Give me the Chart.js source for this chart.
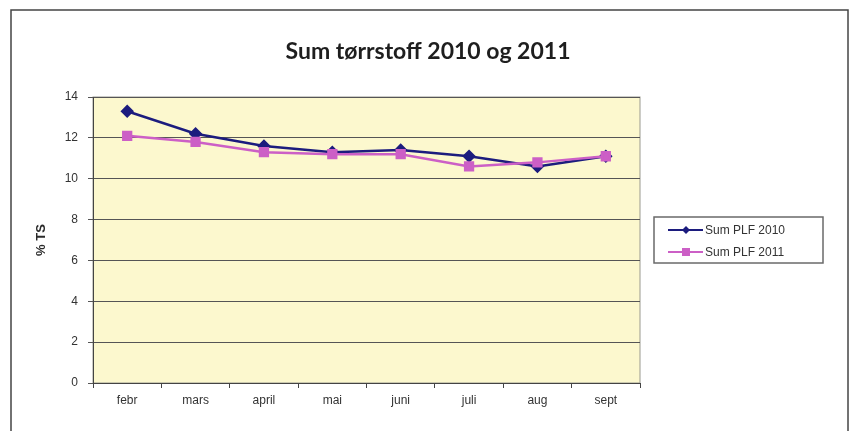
<!DOCTYPE html>
<html>
<head>
<meta charset="utf-8">
<script src="https://cdn.jsdelivr.net/npm/chart.js@4"></script>
<style>
  html, body { margin: 0; padding: 0; background: #fff; }
  #wrap { width: 853px; height: 431px; }
</style>
</head>
<body>
<div id="wrap"><canvas id="myChart" width="853" height="431"></canvas></div>
<script>
const months = ['febr', 'mars', 'april', 'mai', 'juni', 'juli', 'aug', 'sept'];
const plf2010 = [13.3, 12.2, 11.6, 11.3, 11.4, 11.1, 10.6, 11.1];
const plf2011 = [12.1, 11.8, 11.3, 11.2, 11.2, 10.6, 10.8, 11.1];
const yTicks = [0, 2, 4, 6, 8, 10, 12, 14];

const titleText = 'Sum tørrstoff 2010 og 2011';
const yTitle = '% TS';

// background, frame, title, y title and the boxed legend
const decorPlugin = {
  id: 'decor',
  beforeDraw(chart) {
    const { ctx, chartArea: a } = chart;
    ctx.save();
    ctx.fillStyle = '#fff';
    ctx.fillRect(0, 0, chart.width, chart.height);
    // outer frame
    ctx.strokeStyle = '#444';
    ctx.lineWidth = 1.5;
    ctx.strokeRect(11, 10, 837, 440);
    // plot background
    ctx.fillStyle = '#FCF8CE';
    ctx.fillRect(a.left, a.top, a.right - a.left, a.bottom - a.top);
    ctx.strokeStyle = '#9a9a90';
    ctx.lineWidth = 1;
    ctx.strokeRect(a.left, a.top, a.right - a.left, a.bottom - a.top);
    ctx.restore();
  },
  afterDraw(chart) {
    const { ctx } = chart;
    ctx.save();
    ctx.fillStyle = '#1e1e1e';
    ctx.font = 'bold 23px Lato';
    ctx.textAlign = 'center';
    ctx.textBaseline = 'middle';
    ctx.fillText(titleText, 428, 52);

    ctx.translate(41, 240);
    ctx.rotate(-Math.PI / 2);
    ctx.font = 'bold 13px "Liberation Sans"';
    ctx.fillStyle = '#2a2a2a';
    ctx.fillText(yTitle, 0, 0);
    ctx.restore();

    // legend
    ctx.save();
    ctx.strokeStyle = '#6a6a6a';
    ctx.lineWidth = 1.5;
    ctx.strokeRect(654, 217, 169, 46);
    chart.data.datasets.forEach((ds, i) => {
      const y = 230 + i * 22;
      ctx.strokeStyle = ds.borderColor;
      ctx.lineWidth = 2;
      ctx.beginPath();
      ctx.moveTo(668, y);
      ctx.lineTo(703, y);
      ctx.stroke();
      ctx.fillStyle = ds.borderColor;
      if (ds.pointStyle === 'rect') {
        ctx.fillRect(682, y - 4, 8, 8);
      } else {
        ctx.beginPath();
        ctx.moveTo(686, y - 4);
        ctx.lineTo(690, y);
        ctx.lineTo(686, y + 4);
        ctx.lineTo(682, y);
        ctx.closePath();
        ctx.fill();
      }
      ctx.fillStyle = '#333';
      ctx.font = '12px "Liberation Sans"';
      ctx.textAlign = 'left';
      ctx.textBaseline = 'middle';
      ctx.fillText(ds.label, 705, y + 1);
    });
    ctx.restore();
  }
};

const ctx = document.getElementById('myChart').getContext('2d');
const myChart = new Chart(ctx, {
  type: 'line',
  data: {
    labels: months,
    datasets: [
      {
        label: 'Sum PLF 2010',
        data: plf2010,
        borderColor: '#1c1c7e',
        backgroundColor: '#1c1c7e',
        borderWidth: 2.5,
        pointStyle: 'rectRot',
        pointRadius: 5,
        pointHoverRadius: 5,
        order: 1,
      },
      {
        label: 'Sum PLF 2011',
        data: plf2011,
        borderColor: '#CC5FC6',
        backgroundColor: '#CC5FC6',
        borderWidth: 2.5,
        pointStyle: 'rect',
        pointRadius: 5.5,
        pointHoverRadius: 5.5,
        order: 0,
      },
    ],
  },
  options: {
    responsive: false,
    animation: false,
    layout: { padding: { left: 0, top: 97, right: 213, bottom: 0 } },
    plugins: {
      legend: { display: false },
      title: { display: false },
      tooltip: { enabled: false },
    },
    scales: {
      x: {
        offset: true,
        grid: {
          offset: true,
          drawOnChartArea: false,
          drawTicks: true,
          tickLength: 5,
          color: '#444',
        },
        border: { color: '#444', width: 1 },
        ticks: {
          padding: 5,
          color: '#333',
          font: { family: '"Liberation Sans"', size: 12 },
          maxRotation: 0,
        },
        afterFit(scale) { scale.height = 48; },
      },
      y: {
        min: 0,
        max: 14,
        afterBuildTicks(scale) { scale.ticks = yTicks.map(v => ({ value: v })); },
        grid: { color: '#555', lineWidth: 1, tickLength: 5 },
        border: { color: '#444', width: 1 },
        ticks: {
          padding: 10,
          color: '#333',
          font: { family: '"Liberation Sans"', size: 12 },
        },
        afterFit(scale) { scale.width = 93; },
      },
    },
  },
  plugins: [decorPlugin],
});
</script>
</body>
</html>
